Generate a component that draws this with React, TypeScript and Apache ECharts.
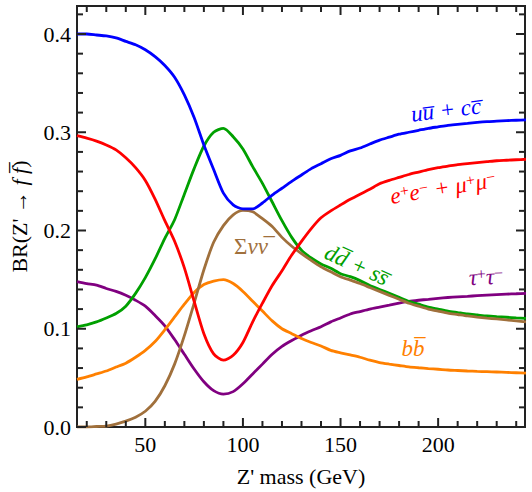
import React, { useEffect, useRef } from "react";
import * as echarts from "echarts";

const mass = [15, 20, 25, 30, 35, 40, 45, 50, 55, 60, 65, 70, 75, 80, 85, 90, 95, 100, 105, 110, 115, 120, 125, 130, 135, 140, 145, 150, 155, 160, 165, 170, 175, 180, 185, 190, 195, 200, 205, 210, 215, 220, 225, 230, 235, 240, 245];

const upCharm = [0.400, 0.400, 0.399, 0.398, 0.396, 0.3925, 0.389, 0.384, 0.377, 0.368, 0.356, 0.338, 0.315, 0.287, 0.262, 0.238, 0.226, 0.222, 0.222, 0.228, 0.236, 0.243, 0.250, 0.2565, 0.263, 0.268, 0.273, 0.2765, 0.281, 0.284, 0.288, 0.292, 0.295, 0.298, 0.300, 0.302, 0.304, 0.3055, 0.307, 0.308, 0.309, 0.310, 0.3108, 0.3113, 0.3118, 0.3122, 0.3125];
const electronMuon = [0.2965, 0.294, 0.291, 0.287, 0.282, 0.274, 0.264, 0.251, 0.232, 0.210, 0.189, 0.162, 0.128, 0.095, 0.0745, 0.068, 0.073, 0.086, 0.107, 0.126, 0.144, 0.159, 0.175, 0.189, 0.202, 0.213, 0.220, 0.226, 0.2318, 0.237, 0.242, 0.2475, 0.251, 0.254, 0.257, 0.2595, 0.262, 0.264, 0.2655, 0.267, 0.268, 0.269, 0.270, 0.271, 0.2715, 0.272, 0.2725];
const downStrange = [0.102, 0.104, 0.107, 0.111, 0.1155, 0.123, 0.136, 0.152, 0.171, 0.192, 0.211, 0.237, 0.263, 0.286, 0.300, 0.304, 0.2955, 0.283, 0.265, 0.248, 0.229, 0.210, 0.193, 0.180, 0.172, 0.166, 0.1615, 0.156, 0.153, 0.149, 0.144, 0.140, 0.136, 0.132, 0.128, 0.125, 0.122, 0.120, 0.118, 0.1165, 0.115, 0.114, 0.113, 0.1123, 0.1117, 0.111, 0.1105];
const neutrinos = [0.000, 0.000, 0.0005, 0.001, 0.003, 0.006, 0.010, 0.016, 0.026, 0.042, 0.064, 0.093, 0.126, 0.160, 0.188, 0.205, 0.216, 0.2205, 0.219, 0.212, 0.204, 0.193, 0.184, 0.1765, 0.1695, 0.163, 0.158, 0.153, 0.1495, 0.146, 0.142, 0.138, 0.134, 0.130, 0.126, 0.123, 0.120, 0.118, 0.116, 0.1145, 0.113, 0.1118, 0.1108, 0.110, 0.109, 0.108, 0.107];
const bottom = [0.0485, 0.051, 0.054, 0.057, 0.061, 0.065, 0.071, 0.078, 0.087, 0.099, 0.112, 0.125, 0.137, 0.145, 0.1485, 0.150, 0.146, 0.138, 0.128, 0.118, 0.108, 0.100, 0.095, 0.090, 0.086, 0.0825, 0.078, 0.0755, 0.0733, 0.071, 0.068, 0.0656, 0.064, 0.0626, 0.0612, 0.0603, 0.0595, 0.0588, 0.058, 0.0575, 0.057, 0.0566, 0.0563, 0.056, 0.0556, 0.0552, 0.0548];
const tau = [0.148, 0.146, 0.1445, 0.141, 0.138, 0.134, 0.129, 0.123, 0.1135, 0.103, 0.089, 0.074, 0.059, 0.046, 0.037, 0.0335, 0.036, 0.044, 0.054, 0.064, 0.074, 0.082, 0.088, 0.0935, 0.098, 0.102, 0.107, 0.111, 0.115, 0.1175, 0.120, 0.122, 0.124, 0.126, 0.1278, 0.129, 0.130, 0.131, 0.1318, 0.1325, 0.133, 0.1337, 0.1342, 0.1347, 0.1352, 0.1356, 0.136];

const xMajor = [50, 100, 150, 200];
const xMinor = [20, 30, 40, 60, 70, 80, 90, 110, 120, 130, 140, 160, 170, 180, 190, 210, 220, 230, 240];
const yMajor = [0, 0.1, 0.2, 0.3, 0.4];
const yMinor = [0.02, 0.04, 0.06, 0.08, 0.12, 0.14, 0.16, 0.18, 0.22, 0.24, 0.26, 0.28, 0.32, 0.34, 0.36, 0.38, 0.42];

const FONT = "'Liberation Serif', 'Times New Roman', 'DejaVu Serif', serif";
const C = {
  blue: "#0000ff",
  red: "#ff0000",
  green: "#00a000",
  brown: "#a0703c",
  orange: "#ff8000",
  purple: "#800080",
};

export default function App() {
  const ref = useRef<HTMLDivElement>(null);
  useEffect(() => {
    const chart = echarts.init(ref.current!, null, { renderer: "svg" });
    const X_MIN = 15, X_MAX = 244.5, Y_MIN = 0, Y_MAX = 0.4285;

    const mk = (data: number[], color: string) => ({
      type: "line",
      data: mass.map((m, i) => [m, data[i]]),
      showSymbol: false,
      symbol: "none",
      smooth: 0.25,
      lineStyle: { color, width: 2.8 },
      itemStyle: { color },
      clip: true,
      z: 3,
    });

    const lbl = (text: string, x: number, y: number, color: string, rot: number) => ({
      type: "text",
      x,
      y,
      rotation: rot,
      z: 100,
      style: {
        text,
        fill: color,
        align: "center",
        verticalAlign: "middle",
        fontFamily: FONT,
        fontSize: 23,
        fontStyle: "italic",
        rich: {
          i: { fontFamily: FONT, fontSize: 23, fontStyle: "italic", fill: color, color },
          r: { fontFamily: FONT, fontSize: 23, fontStyle: "normal", fill: color, color },
          s: { fontFamily: FONT, fontSize: 16, fontStyle: "normal", fill: color, color, verticalAlign: "top" },
        },
      },
    });

    const labels = [
      lbl("{i|uu\u0305 + cc\u0305}", 446, 110, C.blue, 0.12),
      lbl("{i|e}{s|+}{i|e}{s|−}{i| + μ}{s|+}{i|μ}{s|−}", 443, 188, C.red, 0.16),
      lbl("{r|Σ}{i|νν\u0305}", 251, 246, C.brown, 0),
      lbl("{i|dd\u0305 + ss\u0305}", 357, 265, C.green, -0.43),
      lbl("{i|τ}{s|+}{i|τ}{s|−}", 486, 277, C.purple, 0.05),
      lbl("{i|bb\u0305}", 413, 348, C.orange, 0),
    ];

    chart.setOption({
      animation: false,
      textStyle: { fontFamily: FONT },
      grid: {
        left: 74, right: 7, top: 6, bottom: 65,
        show: true, borderColor: "#222", borderWidth: 2,
      },
      xAxis: {
        type: "value",
        min: X_MIN,
        max: X_MAX,
        axisLine: { show: false },
        axisTick: { show: false },
        axisLabel: { show: true, customValues: xMajor, fontFamily: FONT, fontSize: 22, color: "#000", margin: 6 },
        splitLine: { show: false },
        name: "Z' mass (GeV)",
        nameLocation: "middle",
        nameGap: 38,
        nameTextStyle: { fontFamily: FONT, fontSize: 22, color: "#000" },
      },
      yAxis: {
        type: "value",
        min: Y_MIN,
        max: Y_MAX,
        axisLine: { show: false },
        axisTick: { show: false },
        axisLabel: { show: true, customValues: yMajor, fontFamily: FONT, fontSize: 22, color: "#000", margin: 6, formatter: (v: number) => v.toFixed(1) },
        splitLine: { show: false },
        name: "{r|BR(Z' → }{i|f f\u0305}{r|)}",
        nameLocation: "middle",
        nameGap: 47,
        nameTextStyle: {
          color: "#000",
          fontFamily: FONT,
          fontSize: 22,
          rich: {
            r: { fontFamily: FONT, fontSize: 22, color: "#000" },
            i: { fontFamily: FONT, fontSize: 22, fontStyle: "italic", color: "#000" },
          },
        },
      },
      series: [
        mk(tau, C.purple),
        mk(bottom, C.orange),
        mk(downStrange, C.green),
        mk(neutrinos, C.brown),
        mk(electronMuon, C.red),
        mk(upCharm, C.blue),
      ],
      graphic: labels,
    });

    // inward ticks on all four sides, positioned through the axis scales
    const ticks: any[] = [];
    const st = { stroke: "#222", lineWidth: 2 };
    const px = (x: number, y: number) => chart.convertToPixel({ gridIndex: 0 }, [x, y]) as number[];
    const addX = (vals: number[], len: number) =>
      vals.forEach((v) => {
        const b = px(v, Y_MIN);
        const t = px(v, Y_MAX);
        ticks.push({ type: "line", z: 50, shape: { x1: b[0], y1: b[1], x2: b[0], y2: b[1] - len }, style: st });
        ticks.push({ type: "line", z: 50, shape: { x1: t[0], y1: t[1], x2: t[0], y2: t[1] + len }, style: st });
      });
    const addY = (vals: number[], len: number) =>
      vals.forEach((v) => {
        const l = px(X_MIN, v);
        const r = px(X_MAX, v);
        ticks.push({ type: "line", z: 50, shape: { x1: l[0], y1: l[1], x2: l[0] + len, y2: l[1] }, style: st });
        ticks.push({ type: "line", z: 50, shape: { x1: r[0], y1: r[1], x2: r[0] - len, y2: r[1] }, style: st });
      });
    addX(xMajor, 9);
    addX(xMinor, 6);
    addY(yMajor, 9);
    addY(yMinor, 6);
    chart.setOption({ graphic: [...labels, ...ticks] });

    return () => chart.dispose();
  }, []);
  return <div ref={ref} style={{ position: "absolute", left: 0, top: 0, width: 532, height: 492 }} />;
}
